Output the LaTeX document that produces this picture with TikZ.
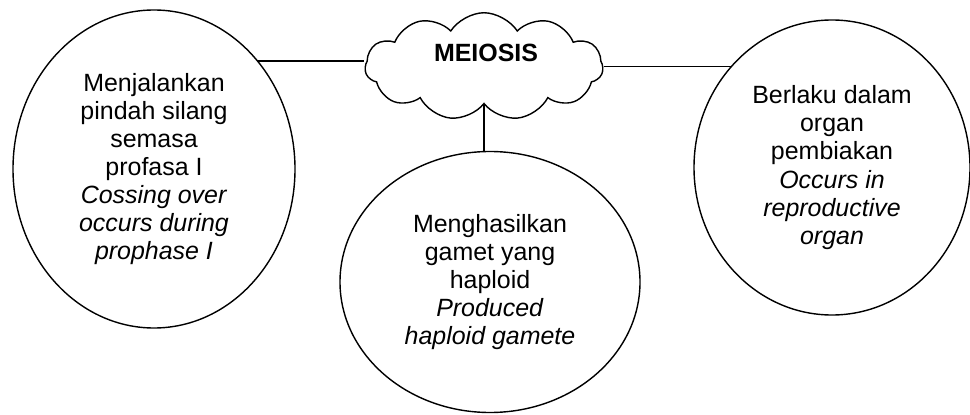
\documentclass[tikz,border=0pt]{standalone}
\usepackage{fontspec}
\setmainfont{Liberation Sans}
\usetikzlibrary{shapes.geometric,shapes.symbols}

\begin{document}
\begin{tikzpicture}[line width=0.8pt,
  bubble/.style={draw, ellipse, align=center, inner sep=0pt,
    font=\fontsize{14.2}{16}\selectfont},
  puff/.style={draw, cloud, cloud puffs=11, cloud puff arc=115,
    cloud ignores aspect, inner sep=0pt,
    minimum width=4.76cm, minimum height=2.15cm}]
\useasboundingbox (0,0) rectangle (19.4,8.28);

\node[puff] (cld) at (9.68,6.95) {};
\node[font=\fontsize{14.2}{16}\selectfont\bfseries] (meio) at (9.72,7.23) {MEIOSIS};

\node[bubble, minimum width=5.64cm, minimum height=6.36cm] (lft) at (3.08,4.90)
  {Menjalankan\\pindah silang\\semasa\\profasa I\\\textit{Cossing over}\\\textit{occurs during}\\\textit{prophase I}};
\node[bubble, minimum width=6.0cm, minimum height=5.22cm] (mid) at (9.80,2.64)
  {Menghasilkan\\gamet yang\\haploid\\\textit{Produced}\\\textit{haploid gamete}};
\node[bubble, minimum width=5.52cm, minimum height=5.90cm] (rgt) at (16.64,4.93)
  {Berlaku dalam\\organ\\pembiakan\\\textit{Occurs in}\\\textit{reproductive}\\\textit{organ}};

\draw (lft.46) -- (lft.46 -| cld.west);
\draw (rgt.135) -- (rgt.135 -| cld.east);
\draw (cld.south) -- (cld.south |- mid.north);
\end{tikzpicture}
\end{document}
